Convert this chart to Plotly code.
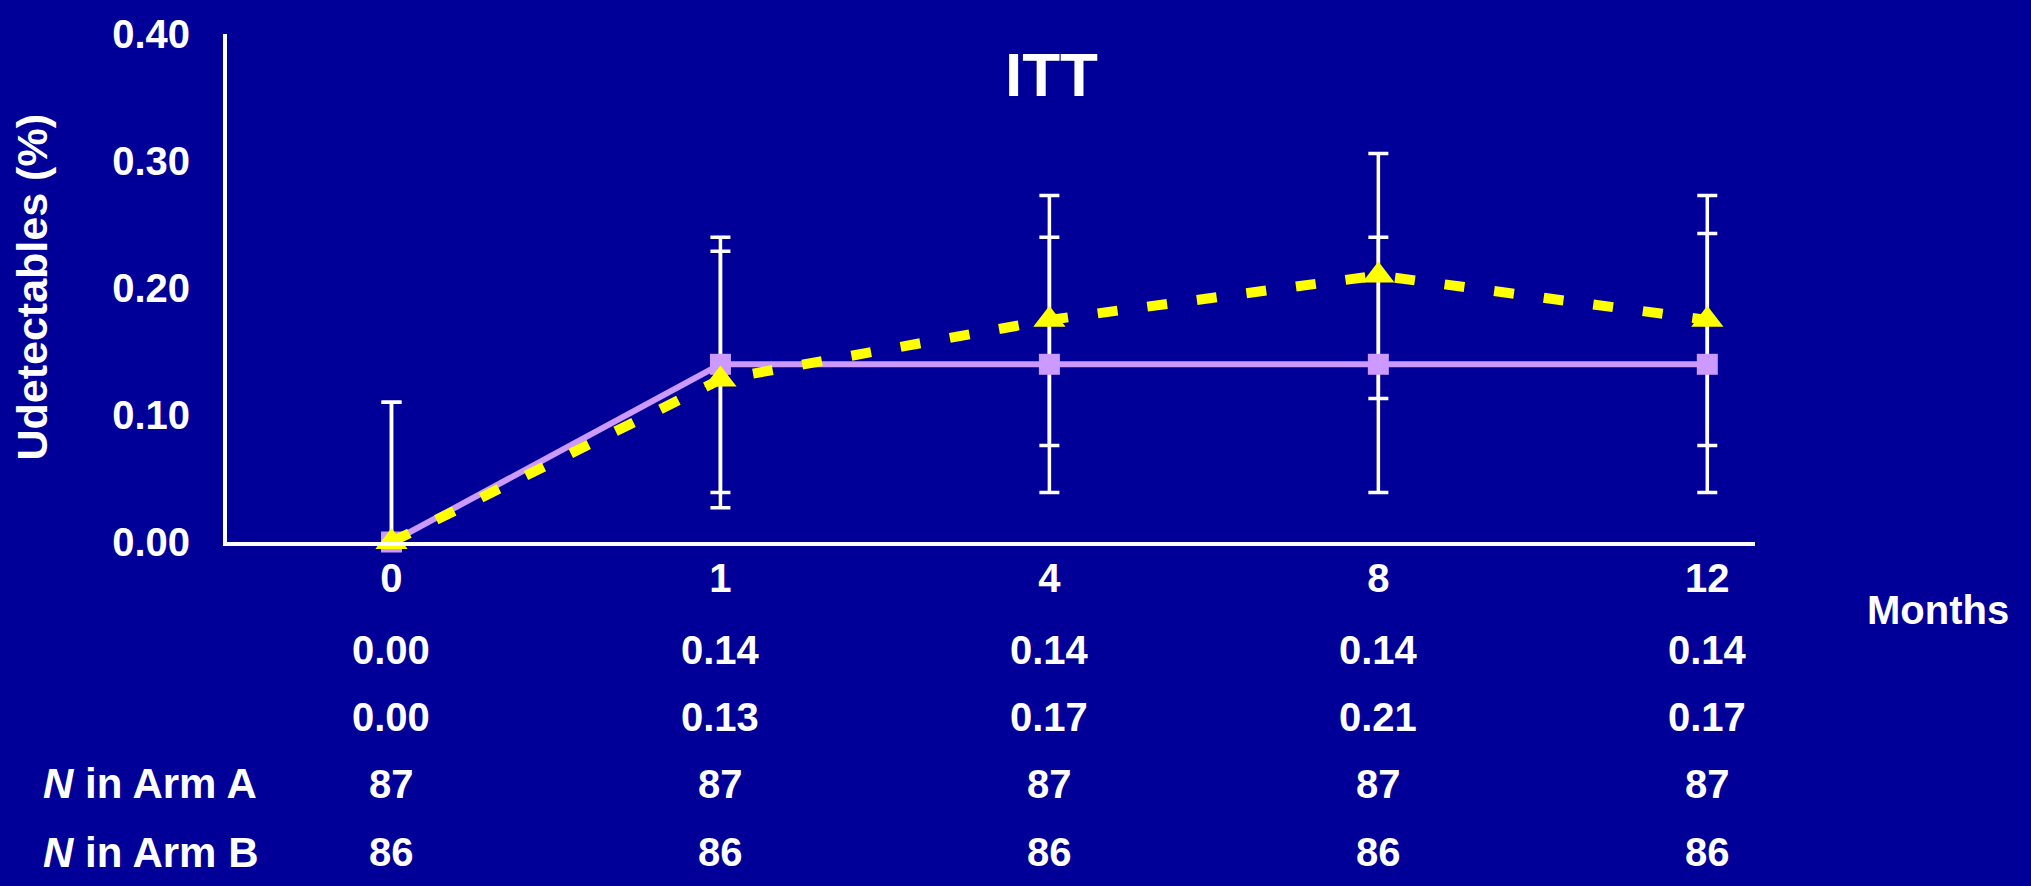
import plotly.graph_objects as go

# ---- data ----
months = ["0", "1", "4", "8", "12"]
arm_a = [0.00, 0.14, 0.14, 0.14, 0.14]
arm_b = [0.00, 0.128, 0.175, 0.21, 0.175]
arm_a_err_plus = [0.11, 0.10, 0.10, 0.10, 0.103]
arm_a_err_minus = [0.00, 0.101, 0.101, 0.101, 0.101]
arm_b_err_plus = [0.11, 0.101, 0.098, 0.096, 0.098]
arm_b_err_minus = [0.00, 0.101, 0.099, 0.097, 0.099]
table_a = ["0.00", "0.14", "0.14", "0.14", "0.14"]
table_b = ["0.00", "0.13", "0.17", "0.21", "0.17"]
n_arm_a = ["87", "87", "87", "87", "87"]
n_arm_b = ["86", "86", "86", "86", "86"]
row_labels = ["", "", "<i>N</i> in Arm A", "<i>N</i> in Arm B"]
y_ticks = [0.0, 0.1, 0.2, 0.3, 0.4]
y_tick_text = ["0.00", "0.10", "0.20", "0.30", "0.40"]

# ---- style ----
BG = "#000099"
PURPLE = "#CC99FF"
YELLOW = "#FFFF00"
WHITE = "#FFFFFF"
FONT = "Arial, Liberation Sans, sans-serif"

W, H = 2031, 886
L, R, T, B = 227, 276, 21, 344
plot_w = W - L - R
plot_h = H - T - B


def py_to_paper(py):
    return (H - B - py) / plot_h


def px_to_paper(px):
    return (px - L) / plot_w


xs = list(range(len(months)))

fig = go.Figure()

# error bars (drawn beneath the lines and markers)
for vals, ep, em in [(arm_b, arm_b_err_plus, arm_b_err_minus),
                     (arm_a, arm_a_err_plus, arm_a_err_minus)]:
    fig.add_trace(go.Scatter(
        x=xs, y=vals, mode="markers",
        marker=dict(size=1, opacity=0),
        error_y=dict(type="data", symmetric=False, array=ep, arrayminus=em,
                     color=WHITE, thickness=3.5, width=10),
        showlegend=False, hoverinfo="skip", cliponaxis=False))

fig.add_trace(go.Scatter(
    x=xs, y=arm_a, mode="lines+markers", name="Arm A",
    line=dict(color=PURPLE, width=6),
    marker=dict(symbol="square", size=21, color=PURPLE),
    showlegend=False, cliponaxis=False))

fig.add_trace(go.Scatter(
    x=xs, y=arm_b, mode="lines+markers", name="Arm B",
    line=dict(color=YELLOW, width=10, dash="20px,30px"),
    marker=dict(symbol="triangle-up", size=28, color=YELLOW),
    showlegend=False, cliponaxis=False))

annotations = []
# title
annotations.append(dict(text="<b>ITT</b>", x=px_to_paper(1051), y=py_to_paper(63),
                        xref="paper", yref="paper", showarrow=False,
                        font=dict(family=FONT, size=62, color=WHITE),
                        xanchor="center", yanchor="middle"))
# y-axis title
annotations.append(dict(text="<b>Udetectables (%)</b>", x=px_to_paper(32), y=py_to_paper(281),
                        xref="paper", yref="paper", showarrow=False, textangle=-90,
                        font=dict(family=FONT, size=43, color=WHITE),
                        xanchor="center", yanchor="middle"))
# Months label
annotations.append(dict(text="<b>Months</b>", x=px_to_paper(1938), y=py_to_paper(612),
                        xref="paper", yref="paper", showarrow=False,
                        font=dict(family=FONT, size=40, color=WHITE),
                        xanchor="center", yanchor="middle"))

# table rows under the axis
row_y = [653, 721, 790, 860]
for rows, ry, lab in zip([table_a, table_b, n_arm_a, n_arm_b], row_y, row_labels):
    for xi, txt in zip(xs, rows):
        annotations.append(dict(text="<b>" + txt + "</b>", x=xi, y=py_to_paper(ry),
                                xref="x", yref="paper", showarrow=False,
                                font=dict(family=FONT, size=40, color=WHITE),
                                xanchor="center", yanchor="middle"))
    if lab:
        annotations.append(dict(text="<b>" + lab + "</b>", x=px_to_paper(41), y=py_to_paper(ry),
                                xref="paper", yref="paper", showarrow=False,
                                font=dict(family=FONT, size=42, color=WHITE),
                                xanchor="left", yanchor="middle"))

fig.update_layout(
    width=W, height=H,
    margin=dict(l=L, r=R, t=T, b=B, pad=0),
    paper_bgcolor=BG, plot_bgcolor=BG,
    showlegend=False,
    annotations=annotations,
    xaxis=dict(range=[-0.5, 4.145], tickmode="array", tickvals=xs,
               ticktext=["<b>" + m + "</b>" for m in months],
               showgrid=False, zeroline=False, showline=True, linecolor=WHITE, linewidth=4,
               ticks="", tickfont=dict(family=FONT, size=40, color=WHITE),
               ticklabelstandoff=-2, fixedrange=True),
    yaxis=dict(range=[0, 0.4002], tickmode="array", tickvals=y_ticks,
               ticktext=["<b>" + t + "</b>" for t in y_tick_text],
               showgrid=False, zeroline=False, showline=True, linecolor=WHITE, linewidth=4,
               ticks="", tickfont=dict(family=FONT, size=40, color=WHITE),
               ticklabelstandoff=25, ticklabeloverflow="allow", fixedrange=True),
)

fig.write_html("out.html", config={"displayModeBar": False},
               post_script="document.body.style.margin='0';document.body.style.background='#000099';")
